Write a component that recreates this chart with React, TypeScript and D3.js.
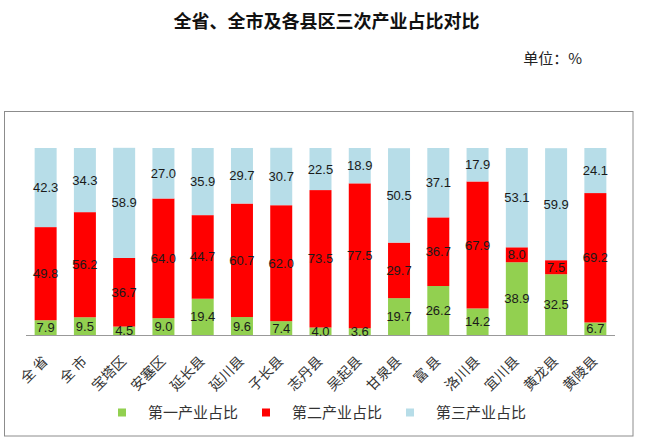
import React from "react";
import * as d3 from "d3";

const categories = ["全 省", "全 市", "宝塔区", "安塞区", "延长县", "延川县", "子长县", "志丹县", "吴起县", "甘泉县", "富 县", "洛川县", "宜川县", "黄龙县", "黄陵县"];
const primary = [7.9, 9.5, 4.5, 9.0, 19.4, 9.6, 7.4, 4.0, 3.6, 19.7, 26.2, 14.2, 38.9, 32.5, 6.7];
const secondary = [49.8, 56.2, 36.7, 64.0, 44.7, 60.7, 62.0, 73.5, 77.5, 29.7, 36.7, 67.9, 8.0, 7.5, 69.2];
const tertiary = [42.3, 34.3, 58.9, 27.0, 35.9, 29.7, 30.7, 22.5, 18.9, 50.5, 37.1, 17.9, 53.1, 59.9, 24.1];
const seriesNames = ["第一产业占比", "第二产业占比", "第三产业占比"];
const seriesColors = ["#92D050", "#FF0000", "#B7DDE8"];

export default function App() {
  const W = 655, H = 448;
  const x = d3.scaleBand<string>().domain(categories).range([26, 615]).paddingInner(0.44).paddingOuter(0.22);
  const y = d3.scaleLinear().domain([0, 100]).range([335, 148]);
  const rows = categories.map((c, i) => ({ cat: c, s0: primary[i], s1: secondary[i], s2: tertiary[i] }));
  const stack = d3.stack<any>().keys(["s0", "s1", "s2"]);
  const layers = stack(rows);
  const cjk = "'Noto Sans CJK SC', sans-serif";
  const num = "'Liberation Sans', Arial, sans-serif";
  const legendX = [118, 262, 406];
  return (
    <svg width={W} height={H} style={{ position: "absolute", left: 0, top: 0, background: "#fff" }}>
      <text x={326.5} y={28} textAnchor="middle" fontFamily={cjk} fontWeight="bold" fontSize={18} fill="#111">全省、全市及各县区三次产业占比对比</text>
      <text x={582} y={64} textAnchor="end" fontFamily={cjk} fontSize={15} fill="#222">单位：%</text>
      <rect x={4.5} y={111.5} width={628.5} height={324.5} fill="#fff" stroke="#8c8c8c" strokeWidth={1} />
      {layers.map((layer, li) => (
        <g key={li}>
          {layer.map((d, i) => (
            <rect key={i} x={x(categories[i])} y={y(d[1])} width={x.bandwidth()} height={y(d[0]) - y(d[1])} fill={seriesColors[li]} />
          ))}
        </g>
      ))}
      <line x1={26} x2={615} y1={335.5} y2={335.5} stroke="#999" strokeWidth={1} />
      {layers.map((layer, li) => (
        <g key={"l" + li}>
          {layer.map((d, i) => (
            <text key={i} x={(x(categories[i]) as number) + x.bandwidth() / 2} y={(y(d[0]) + y(d[1])) / 2} dy="0.35em" textAnchor="middle" fontFamily={num} fontSize={13} fill="#1a1a1a">
              {(d[1] - d[0]).toFixed(1)}
            </text>
          ))}
        </g>
      ))}
      {categories.map((c, i) => {
        const cx = (x(c) as number) + x.bandwidth() / 2 + 3;
        const cy = 362;
        return (
          <text key={c} x={cx} y={cy} textAnchor="end" transform={`rotate(-45 ${cx} ${cy})`} fontFamily={cjk} fontSize={14} fill="#333">{c}</text>
        );
      })}
      {seriesNames.map((n, i) => (
        <g key={n}>
          <rect x={legendX[i]} y={408.5} width={8} height={8} fill={seriesColors[i]} />
          <text x={legendX[i] + 30} y={412.5} dy="0.35em" fontFamily={cjk} fontSize={15} fill="#333">{n}</text>
        </g>
      ))}
    </svg>
  );
}
